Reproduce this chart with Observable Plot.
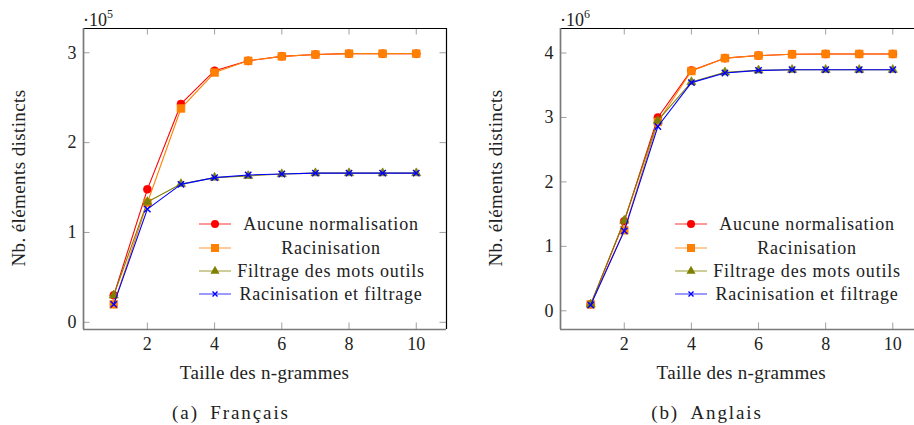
<!DOCTYPE html>
<html><head><meta charset="utf-8">
<script src="https://cdn.jsdelivr.net/npm/d3@7"></script>
<script src="https://cdn.jsdelivr.net/npm/@observablehq/plot@0.6"></script>
<style>
html,body{margin:0;padding:0;background:#fff;overflow:hidden;}
#root{position:relative;width:914px;height:425px;overflow:hidden;font-family:"Liberation Serif",serif;color:#222;}
.abs{position:absolute;white-space:nowrap;line-height:1;font-family:"Liberation Serif",serif;}
.plot{position:absolute;top:0;}
</style></head><body><div id="root"></div>
<script>
// ---- data ----
const ngramSizes = [1,2,3,4,5,6,7,8,9,10];
const seriesNames = ["Aucune normalisation","Racinisation","Filtrage des mots outils","Racinisation et filtrage"];
const seriesColors = ["#ff0000","#ff8000","#808000","#0000ff"];
const legendLineColors = ["#ff8080","#ffbf80","#c0c080","#8080ff"];
const seriesSymbols = ["circle","square","triangle","times"];
// Français (x 10^5)
const frAucune = [0.30,1.48,2.43,2.80,2.91,2.96,2.98,2.99,2.99,2.99];
const frRacin  = [0.20,1.33,2.38,2.78,2.91,2.96,2.98,2.99,2.99,2.99];
const frFiltr  = [0.30,1.34,1.54,1.61,1.63,1.65,1.66,1.66,1.66,1.66];
const frRacFil = [0.20,1.26,1.535,1.61,1.64,1.65,1.66,1.66,1.66,1.66];
// Anglais (x 10^6)
const enAucune = [0.10,1.39,3.00,3.73,3.92,3.96,3.98,3.985,3.985,3.985];
const enRacin  = [0.10,1.25,2.93,3.72,3.92,3.96,3.98,3.985,3.985,3.985];
const enFiltr  = [0.10,1.40,2.95,3.55,3.70,3.73,3.74,3.74,3.74,3.74];
const enRacFil = [0.09,1.24,2.86,3.54,3.69,3.73,3.74,3.74,3.74,3.74];
const xTicks = [2,4,6,8,10];
const frYTicks = [0,1,2,3];
const enYTicks = [0,1,2,3,4];
const xLabel = "Taille des n-grammes";
const yLabel = "Nb. éléments distincts";
const captions = ["(a)\u2002Français","(b)\u2002Anglais"];
const exponents = ["5","6"];

const root = document.getElementById("root");
const FONT = "Liberation Serif";

function addText(html, css){
  const d = document.createElement("div");
  d.className = "abs";
  d.innerHTML = html;
  Object.assign(d.style, css);
  root.appendChild(d);
  return d;
}

function panel(cfg){
  const {left, width, height, mL, mR, mT, mB, xDom, yDom, series, yTicks} = cfg;
  const innerW = width - mL - mR, innerH = height - mT - mB;
  const tk = 6.5;
  const rows = [];
  series.forEach((vals, si) => vals.forEach((v, i) => rows.push({x: ngramSizes[i], y: v, s: si})));
  const marks = [
    Plot.ruleX(xTicks, {x: d => d, stroke: "#a0a0a0", strokeWidth: 1, insetTop: innerH - tk}),
    Plot.ruleX(xTicks, {x: d => d, stroke: "#a0a0a0", strokeWidth: 1, insetBottom: innerH - tk}),
    Plot.ruleY(yTicks, {y: d => d, stroke: "#a0a0a0", strokeWidth: 1, insetRight: innerW - tk}),
    Plot.ruleY(yTicks, {y: d => d, stroke: "#a0a0a0", strokeWidth: 1, insetLeft: innerW - tk}),
    Plot.ruleY([yDom[1]], {stroke: "#000", strokeWidth: 1.2}),
    Plot.ruleX([xDom[1]], {stroke: "#000", strokeWidth: 1.2}),
    Plot.ruleX([xDom[0]], {stroke: "#7a7a7a", strokeWidth: 1.7}),
    Plot.ruleY([yDom[0]], {stroke: "#7a7a7a", strokeWidth: 1.7}),
  ];
  series.forEach((vals, si) => {
    const data = rows.filter(r => r.s === si);
    marks.push(Plot.line(data, {x: "x", y: "y", stroke: seriesColors[si], strokeWidth: 1.1}));
    const sym = seriesSymbols[si];
    if (sym === "times") {
      marks.push(Plot.dot(data, {x: "x", y: "y", symbol: "times", r: 3, stroke: seriesColors[si], strokeWidth: 1.4}));
    } else {
      const r = sym === "circle" ? 4 : sym === "square" ? 4.4 : 3.4;
      marks.push(Plot.dot(data, {x: "x", y: "y", symbol: sym, r, fill: seriesColors[si], stroke: seriesColors[si], strokeWidth: 0.6}));
    }
  });
  marks.push(Plot.axisX(xTicks, {tickSize: 0, tickPadding: 8, label: null, fontSize: 18, fontFamily: FONT, fill: "#222", tickFormat: d3.format("d")}));
  marks.push(Plot.axisY(yTicks, {tickSize: 0, tickPadding: 7, label: null, fontSize: 18, fontFamily: FONT, fill: "#222", tickFormat: d3.format("d")}));
  const svg = Plot.plot({
    width, height, marginLeft: mL, marginRight: mR, marginTop: mT, marginBottom: mB,
    x: {domain: xDom}, y: {domain: yDom},
    style: {fontFamily: FONT, fontSize: "18px", background: "transparent", overflow: "visible"},
    marks
  });
  svg.classList.add("plot");
  svg.style.left = left + "px";
  root.appendChild(svg);
}

// left panel (Français)
panel({left: 0, width: 457, height: 425, mL: 83, mR: 11, mT: 28, mB: 96,
  xDom: [0.1, 10.9], yDom: [-0.08, 3.27],
  series: [frAucune, frRacin, frFiltr, frRacFil], yTicks: frYTicks});
// right panel (Anglais) — extends beyond the window on the right, as in the reference
panel({left: 457, width: 476, height: 425, mL: 103, mR: 10.5, mT: 28, mB: 96,
  xDom: [0.1, 10.9], yDom: [-0.29, 4.38],
  series: [enAucune, enRacin, enFiltr, enRacFil], yTicks: enYTicks});

// overlays: exponent, axis labels, captions, legends
const panels = [
  {boxL: 83, boxR: 446, expX: 83, ylabX: 18, legSw: 199, legTxt: 331, cap: 231},
  {boxL: 560, boxR: 922.5, expX: 560, ylabX: 495, legSw: 675, legTxt: 807, cap: 707}
];
panels.forEach((p, pi) => {
  addText(`·10<sup style="font-size:12px;position:relative;top:-1px">${exponents[pi]}</sup>`,
    {left: p.expX + "px", top: "9px", fontSize: "18px"});
  addText(xLabel, {left: ((p.boxL + p.boxR) / 2) + "px", top: "372px", fontSize: "19px", transform: "translate(-50%,-50%)", letterSpacing: "0.3px"});
  addText(yLabel, {left: p.ylabX + "px", top: "178px", fontSize: "19px", transform: "translate(-50%,-50%) rotate(-90deg)", letterSpacing: "0.4px"});
  addText(captions[pi], {left: p.cap + "px", top: "412px", fontSize: "19px", transform: "translate(-50%,-50%)", letterSpacing: "1.9px"});
  const rowY = [224.3, 247.5, 270.7, 293.9];
  seriesNames.forEach((name, si) => {
    const y = rowY[si];
    const sw = d3.create("svg").attr("width", 34).attr("height", 14)
      .style("position", "absolute").style("left", (p.legSw - 1) + "px").style("top", (y - 7) + "px").style("overflow", "visible");
    sw.append("line").attr("x1", 1).attr("x2", 33).attr("y1", 7).attr("y2", 7)
      .attr("stroke", legendLineColors[si]).attr("stroke-width", 1.6);
    const sym = seriesSymbols[si];
    const g = sw.append("g").attr("transform", "translate(17,7)");
    if (sym === "circle") g.append("circle").attr("r", 4).attr("fill", seriesColors[si]);
    else if (sym === "square") g.append("rect").attr("x", -4).attr("y", -4).attr("width", 8).attr("height", 8).attr("fill", seriesColors[si]);
    else if (sym === "triangle") g.append("path").attr("d", d3.symbol(d3.symbolTriangle, Math.PI * 3.4 * 3.4)()).attr("fill", seriesColors[si]);
    else g.append("path").attr("d", "M-2.5,-2.5L2.5,2.5M-2.5,2.5L2.5,-2.5").attr("stroke", seriesColors[si]).attr("stroke-width", 1.4);
    root.appendChild(sw.node());
    addText(name, {left: p.legTxt + "px", top: y + "px", fontSize: "18px", transform: "translate(-50%,-50%)", letterSpacing: "0.8px"});
  });
});
</script></body></html>
